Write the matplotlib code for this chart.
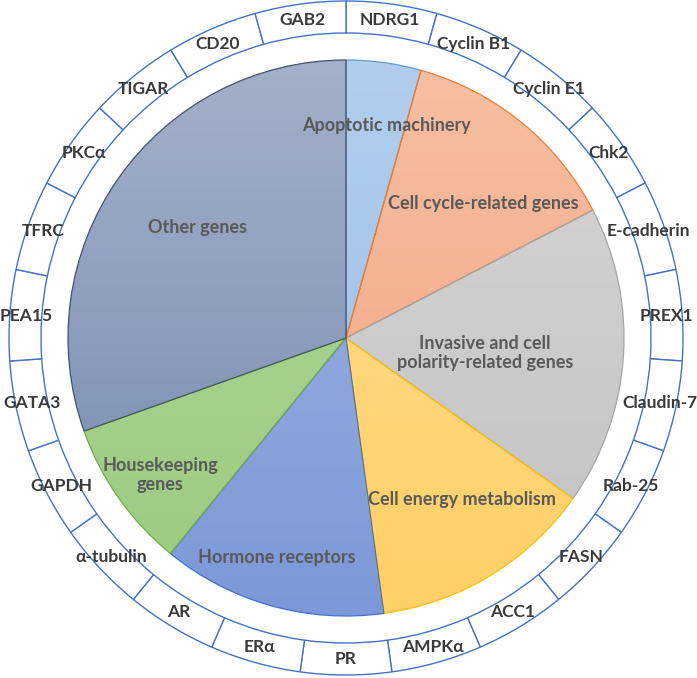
import numpy as np
import matplotlib
matplotlib.use("Agg")
import matplotlib.pyplot as plt
from matplotlib.colors import to_rgb

plt.rcParams['font.family'] = ['Lato', 'DejaVu Sans']

# outer ring: one segment per gene, clockwise from 12 o'clock
genes = ["NDRG1", "Cyclin B1", "Cyclin E1", "Chk2", "E-cadherin", "PREX1",
         "Claudin-7", "Rab-25", "FASN", "ACC1", "AMPKα", "PR", "ERα", "AR",
         "α-tubulin", "GAPDH", "GATA3", "PEA15", "TFRC", "PKCα", "TIGAR",
         "CD20", "GAB2"]

# inner pie: gene groups and number of genes in each
groups = ["Apoptotic machinery", "Cell cycle-related genes",
          "Invasive and cell\npolarity-related genes", "Cell energy metabolism",
          "Hormone receptors", "Housekeeping\ngenes", "Other genes"]
counts = [1, 3, 4, 3, 3, 2, 7]

# gradient (top, bottom) and edge colour per group
tops = ["#B2CEEE", "#F7BFA2", "#D6D6D6", "#FFDE94", "#A2B6E2", "#B0D69A", "#A3B0C9"]
bots = ["#98BCE4", "#F2A27E", "#C2C2C2", "#FFD066", "#7C98D8", "#9CCB80", "#7489B0"]
edges = ["#5B9BD5", "#ED7D31", "#A5A5A5", "#FFC000", "#4472C4", "#70AD47", "#44546A"]

# where the group labels sit (pixel offsets from centre)
lab_xy = [(40, 212), (137, 135), (139, -15), (116, -162), (-69, -219),
          (-186, -137), (-149, 110)]

R_PIE = 278
R_OUT = 337
RING_W = 32

fig = plt.figure(figsize=(6.97, 6.78), dpi=100)
ax = fig.add_axes([0, 0, 1, 1])

wedges, _ = ax.pie(counts, radius=R_PIE, startangle=90, counterclock=False,
                   wedgeprops=dict(facecolor="none", linewidth=0.9, zorder=3))

t = np.linspace(0, 1, 256)[:, None, None]
for w, c1, c2, ec in zip(wedges, tops, bots, edges):
    w.set_edgecolor(ec)
    g = (1 - t) * np.array(to_rgb(c1)) + t * np.array(to_rgb(c2))
    g = np.repeat(g, 2, axis=1)
    im = ax.imshow(g, extent=[-R_PIE, R_PIE, -R_PIE, R_PIE], origin="upper",
                   aspect="auto", zorder=1, interpolation="bilinear")
    im.set_clip_path(w)

for (x, y), s in zip(lab_xy, groups):
    ax.text(x, y, s, ha="center", va="center", fontsize=13, fontweight="bold",
            color="#595959", linespacing=1.2, zorder=5)

ring, _ = ax.pie([1] * len(genes), radius=R_OUT, startangle=90, counterclock=False,
                 wedgeprops=dict(width=RING_W, facecolor="white",
                                 edgecolor="#4472C4", linewidth=1.0))

r_mid = R_OUT - RING_W / 2
step = 360 / len(genes)
for i, g in enumerate(genes):
    a = np.deg2rad(90 - (i + 0.5) * step)
    ax.text(r_mid * np.cos(a), r_mid * np.sin(a), g, ha="center", va="center",
            fontsize=12.5, fontweight="bold", color="#3A3A3A", zorder=6)

ax.set_xlim(-346, 351)
ax.set_ylim(-340, 338)
ax.set_aspect("equal")
ax.axis("off")

fig.savefig("out.png", dpi=100, facecolor="white")
